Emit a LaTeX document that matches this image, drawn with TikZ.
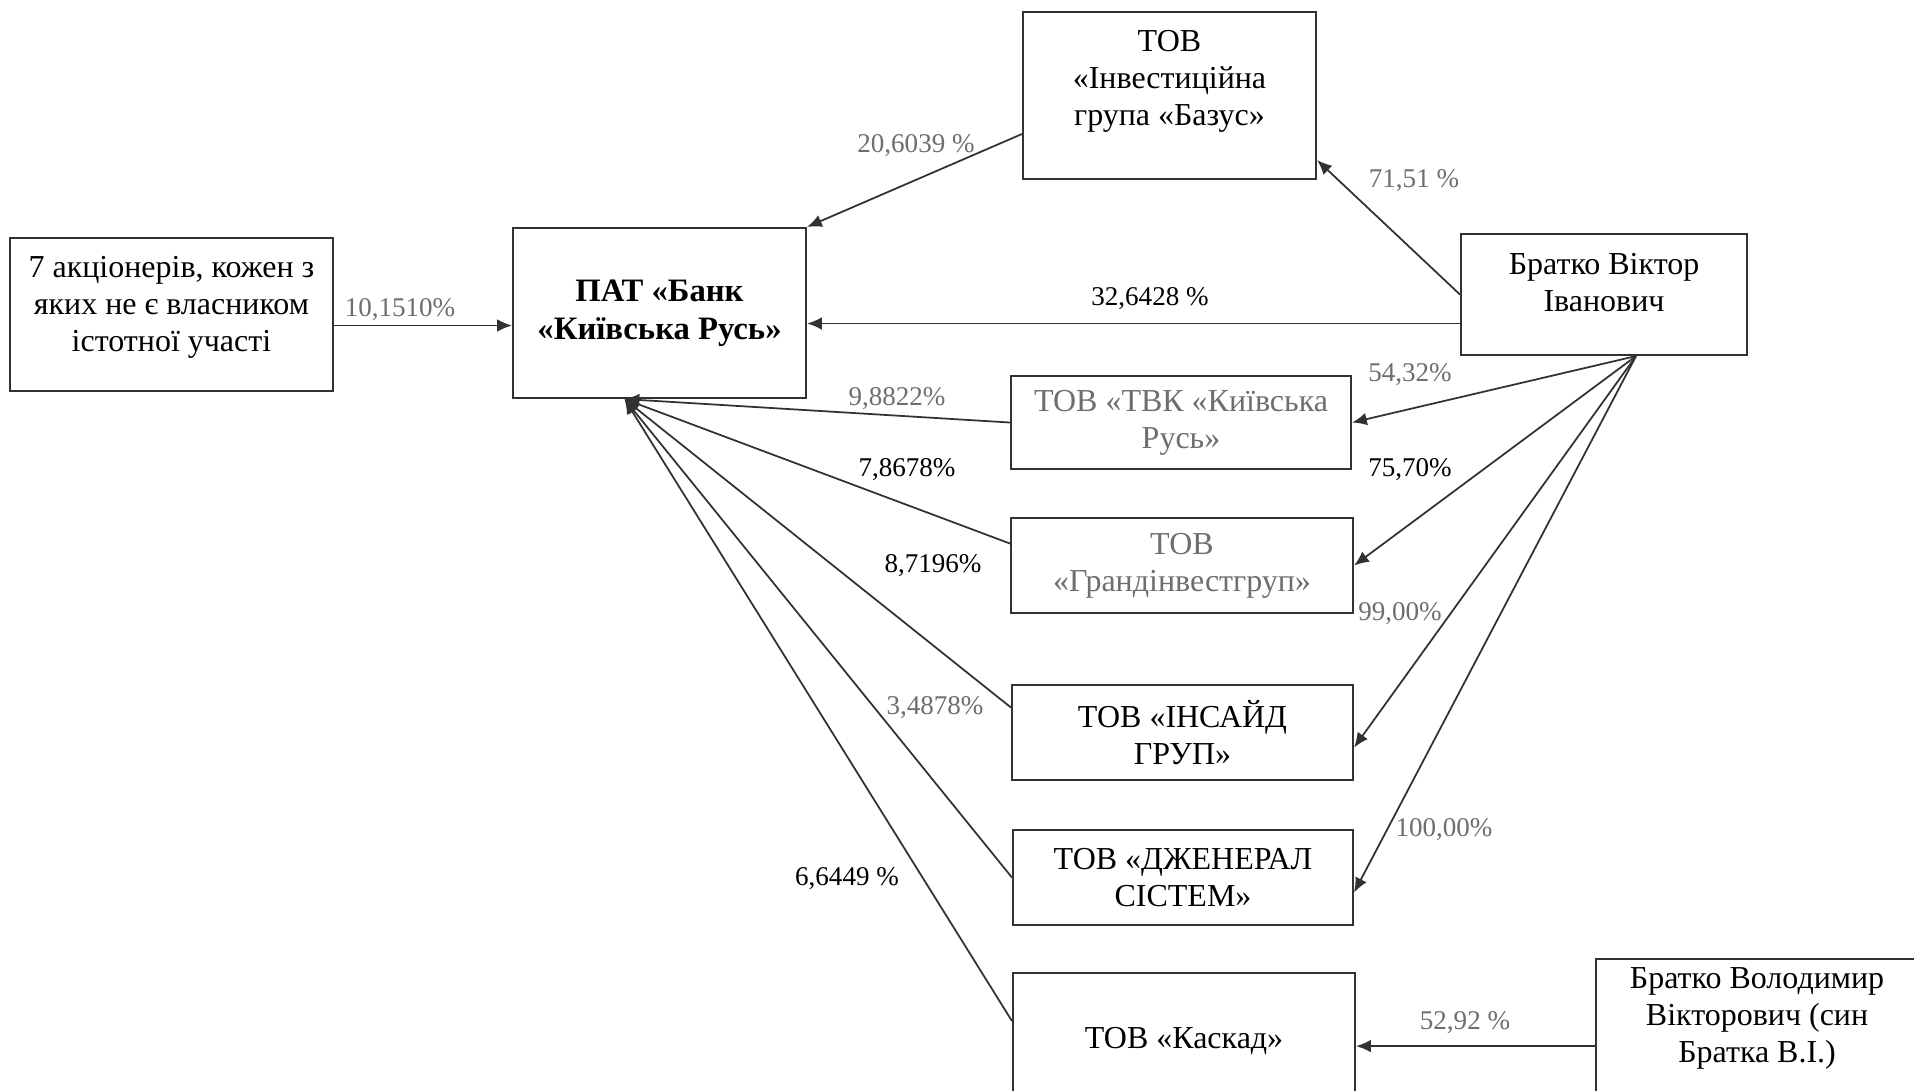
\documentclass[tikz,border=0pt]{standalone}
\usepackage{fontspec}
\setmainfont{Liberation Serif}
\usetikzlibrary{arrows.meta}
\definecolor{scangray}{RGB}{110,110,110}
\definecolor{linegray}{RGB}{50,50,50}
\tikzset{
        ownnode/.style={align=center,inner sep=0pt},
        % Company and person boxes
        node_box/.style={ownnode, rectangle, draw=linegray, line width=0.6pt, font=\fontsize{9.1}{10.5}\selectfont},
        % Boxes with faded text
        node_faded/.style={node_box, text=scangray},
        % The bank itself
        node_bank/.style={node_box, font=\fontsize{9.3}{10.7}\selectfont\bfseries},
        % Share labels
        share/.style={ownnode, font=\fontsize{7.7}{9}\selectfont},
        share_faded/.style={share, text=scangray}
}

\begin{document}
\begin{tikzpicture}[->, >={Latex[length=4.2pt,width=3.6pt]}, line width=0.5pt, draw=linegray]
            \useasboundingbox (0,0) rectangle (19.14,-10.90);
            \fill[white] (0,0) rectangle (19.14,-10.90);

            \node[node_box, minimum width=3.23cm, minimum height=1.53cm] (holders) at (1.715,-3.145)
                {7 акціонерів, кожен з\\яких не є власником\\істотної участі\\[-7.5pt]\strut};
            \node[node_bank, minimum width=2.93cm, minimum height=1.70cm] (bank) at (6.595,-3.13)
                {ПАТ «Банк\\«Київська Русь»};
            \node[node_box, minimum width=2.93cm, minimum height=1.67cm] (bazus) at (11.695,-0.955)
                {ТОВ\\«Інвестиційна\\група «Базус»\\[-3.8pt]\strut};
            \node[node_box, minimum width=2.86cm, minimum height=1.21cm] (bvi) at (16.04,-2.945)
                {Братко Віктор\\Іванович\\[-6.9pt]\strut};
            \node[node_faded, minimum width=3.40cm, minimum height=0.93cm] (tvk) at (11.81,-4.225)
                {ТОВ «ТВК «Київська\\Русь»};
            \node[node_faded, minimum width=3.42cm, minimum height=0.95cm] (grand) at (11.82,-5.655)
                {ТОВ\\«Грандінвестгруп»};
            \node[node_box, minimum width=3.41cm, minimum height=0.95cm] (insaid) at (11.825,-7.325)
                {ТОВ «ІНСАЙД\\ГРУП»};
            \node[node_box, minimum width=3.40cm, minimum height=0.95cm] (general) at (11.83,-8.775)
                {ТОВ «ДЖЕНЕРАЛ\\СІСТЕМ»};
            \node[node_box, minimum width=3.42cm, minimum height=1.36cm] (kaskad) at (11.84,-10.41)
                {ТОВ «Каскад»};
            \node[node_box, anchor=north west, minimum width=3.22cm, minimum height=1.50cm] (bvv) at (15.95,-9.58)
                {Братко Володимир\\Вікторович (син\\Братка В.І.)\\[-3pt]\strut};

            % Ownership links
            \coordinate (bvi_out) at ([xshift=0.32cm]bvi.south);
            \coordinate (bank_in) at ([xshift=-0.35cm]bank.south);
            \draw ([yshift=-0.11cm]holders.east) -- ([yshift=-0.11cm]holders.east -| bank.west);
            \draw ([yshift=-0.385cm]bazus.west) -- (bank.north east);
            \draw (bvi.west) -- ([yshift=0.2cm]bazus.south east);
            \draw ([yshift=-0.29cm]bvi.west) -- ([yshift=-0.29cm]bvi.west -| bank.east);
            \draw (bvi_out) -- (tvk.east);
            \draw (bvi_out) -- (grand.east);
            \draw (bvi_out) -- ([yshift=-0.15cm]insaid.east);
            \draw (bvi_out) -- ([yshift=-0.15cm]general.east);
            \draw ([yshift=-0.12cm]bvv.west) -- ([yshift=-0.12cm]bvv.west -| kaskad.east);
            \draw (tvk.west) -- (bank_in);
            \draw ([yshift=0.22cm]grand.west) -- (bank_in);
            \draw ([yshift=0.25cm]insaid.west) -- (bank_in);
            \draw (general.west) -- (bank_in);
            \draw ([yshift=0.2cm]kaskad.west) -- (bank_in);

            % Shares
            \node[share_faded] (s_holders) at (4.00,-3.10) {10,1510\%};
            \node[share_faded] (s_bazus) at (9.16,-1.46) {20,6039 \%};
            \node[share_faded] (s_bvi_bazus) at (14.14,-1.81) {71,51 \%};
            \node[share] (s_bvi_bank) at (11.50,-2.99) {32,6428 \%};
            \node[share_faded] (s_tvk_own) at (14.10,-3.75) {54,32\%};
            \node[share] (s_grand_own) at (14.10,-4.70) {75,70\%};
            \node[share_faded] (s_insaid_own) at (14.00,-6.14) {99,00\%};
            \node[share_faded] (s_general_own) at (14.44,-8.30) {100,00\%};
            \node[share_faded] (s_kaskad_own) at (14.65,-10.23) {52,92 \%};
            \node[share_faded] (s_tvk) at (8.97,-3.99) {9,8822\%};
            \node[share] (s_grand) at (9.07,-4.70) {7,8678\%};
            \node[share] (s_insaid) at (9.33,-5.66) {8,7196\%};
            \node[share_faded] (s_general) at (9.35,-7.08) {3,4878\%};
            \node[share] (s_kaskad) at (8.47,-8.79) {6,6449 \%};
\end{tikzpicture}
\end{document}
